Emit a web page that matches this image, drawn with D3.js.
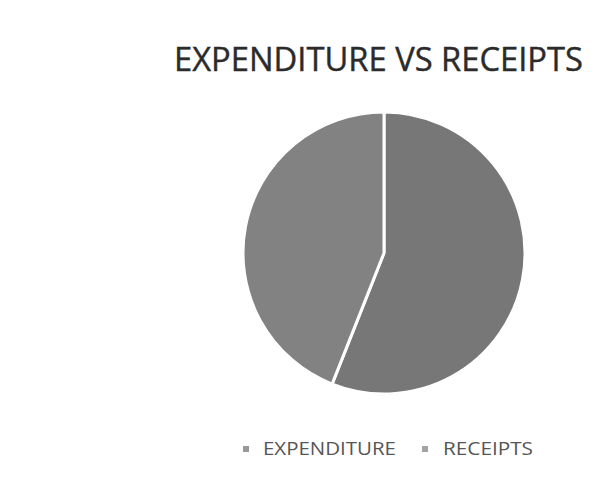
<!DOCTYPE html>
<html>
<head>
<meta charset="utf-8">
<script src="https://cdn.jsdelivr.net/npm/d3@7"></script>
<style>
  html, body { margin: 0; padding: 0; background: #fff; }
</style>
</head>
<body>
<div id="chart"></div>
<script>
// data
const categories = ["EXPENDITURE", "RECEIPTS"];
const values = [56, 44];
const colors = ["#777777", "#828282"];
const legendColors = ["#999999", "#a3a3a3"];

const width = 594, height = 478;
const svg = d3.select("#chart").append("svg")
    .attr("width", width)
    .attr("height", height)
    .attr("viewBox", [0, 0, width, height]);

// title
svg.append("text")
    .attr("x", 174)
    .attr("y", 71)
    .attr("font-family", "Open Sans, sans-serif")
    .attr("font-size", 32)
    .attr("fill", "#2b2b2b")
    .attr("stroke", "#2b2b2b")
    .attr("stroke-width", 0.4)
    .attr("textLength", 409)
    .attr("lengthAdjust", "spacingAndGlyphs")
    .text("EXPENDITURE VS RECEIPTS");

// pie
const data = categories.map((c, i) => ({ name: c, value: values[i] }));
const pie = d3.pie().sort(null).value(d => d.value);
const arc = d3.arc().innerRadius(0).outerRadius(141);

svg.append("g")
    .attr("transform", "translate(384,253)")
    .selectAll("path")
    .data(pie(data))
    .join("path")
    .attr("d", arc)
    .attr("fill", (d, i) => colors[i])
    .attr("stroke", "#fff")
    .attr("stroke-width", 3)
    .attr("stroke-linejoin", "round");

// legend
const legendX = [243, 422];
const legendW = [133, 90];
const legend = svg.append("g")
    .selectAll("g")
    .data(categories)
    .join("g")
    .attr("transform", (d, i) => `translate(${legendX[i]},455)`);

legend.append("rect")
    .attr("x", 0).attr("y", -9)
    .attr("width", 6).attr("height", 6)
    .attr("fill", (d, i) => legendColors[i]);

legend.append("text")
    .attr("x", (d, i) => i === 0 ? 20 : 21)
    .attr("y", 0)
    .attr("font-family", "Open Sans, sans-serif")
    .attr("font-size", 18)
    .attr("fill", "#555")
    .attr("textLength", (d, i) => legendW[i])
    .attr("lengthAdjust", "spacingAndGlyphs")
    .text(d => d);
</script>
</body>
</html>
